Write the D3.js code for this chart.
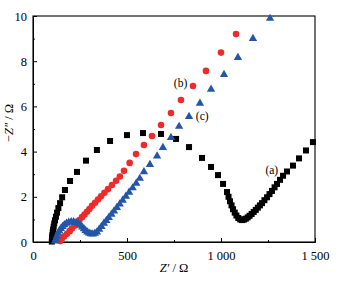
<!DOCTYPE html>
<html>
<head>
<meta charset="utf-8">
<script src="https://cdn.jsdelivr.net/npm/d3@7"></script>
<style>
  body { margin: 0; background: #fff; }
  svg text { font-family: "Liberation Serif", "DejaVu Serif", serif; }
</style>
</head>
<body>
<svg class="eis" width="344" height="281"></svg>
<script>
// Z' (ohm), -Z'' (ohm)
const seriesA = [
  [100,0.02],[101,0.1],[102,0.2],[103,0.3],[105,0.42],[107,0.55],[110,0.68],[113,0.82],
  [117,0.96],[122,1.12],[128,1.3],[135,1.5],[144,1.72],[155,1.98],[170,2.3],[197,2.7],
  [234,3.1],[282,3.6],[340,4.07],[410,4.47],[500,4.73],[585,4.82],[681,4.78],[761,4.56],
  [830,4.2],[899,3.72],[947,3.32],[984,2.96],[1011,2.57],[1032,2.21],[1040,2.0],[1048,1.8],
  [1056,1.62],[1064,1.45],[1073,1.3],[1082,1.17],[1092,1.06],[1102,1.0],[1112,0.97],
  [1122,0.99],[1132,1.03],[1142,1.09],[1152,1.16],[1163,1.24],[1174,1.33],[1185,1.42],
  [1196,1.52],[1207,1.62],[1218,1.72],[1231,1.85],[1245,1.98],[1258,2.12],[1271,2.26],
  [1285,2.42],[1298,2.57],[1314,2.75],[1330,2.93],[1351,3.12],[1383,3.38],[1415,3.7],
  [1452,4.05],[1489,4.42]
];
const seriesB = [
  [145,0.04],[154,0.15],[166,0.25],[181,0.36],[195,0.48],[207,0.6],[220,0.72],[234,0.85],
  [247,0.97],[261,1.1],[274,1.22],[287,1.34],[300,1.46],[314,1.6],[330,1.74],[346,1.88],
  [362,2.02],[380,2.18],[399,2.34],[420,2.52],[442,2.71],[462,2.9],[484,3.15],[514,3.5],
  [548,3.89],[590,4.29],[633,4.69],[681,5.18],[734,5.71],[787,6.28],[851,6.9],[920,7.57],
  [1000,8.38],[1080,9.2]
];
const seriesC = [
  [118,0.02],[122,0.12],[127,0.24],[133,0.36],[140,0.47],[148,0.57],[157,0.66],[167,0.74],
  [178,0.8],[190,0.85],[203,0.87],[216,0.87],[229,0.84],[241,0.79],[252,0.72],[262,0.64],
  [271,0.56],[280,0.48],[289,0.42],[298,0.37],[308,0.34],[318,0.33],[329,0.36],[340,0.42],
  [352,0.54],[364,0.66],[377,0.8],[390,0.93],[403,1.06],[417,1.2],[431,1.35],[446,1.5],
  [461,1.66],[477,1.82],[494,2.0],[511,2.18],[530,2.37],[549,2.57],[568,2.79],[590,3.08],
  [622,3.4],[660,3.78],[691,4.16],[734,4.6],[777,5.09],[830,5.53],[888,6.11],[947,6.73],
  [1016,7.39],[1090,8.14],[1170,8.98],[1261,9.87]
];

const xTicks = [0, 500, 1000, 1500];
const xTickLabels = ['0', '500', '1 000', '1 500'];
const yTicks = [0, 2, 4, 6, 8, 10];

const labels = [
  { text: '(a)', x: 1270, y: 3.0 },
  { text: '(b)', x: 785, y: 6.85 },
  { text: '(c)', x: 900, y: 5.4 }
];

const chart = d3.select('.eis');
const margin = { left: 33, top: 16, right: 29, bottom: 39 };
const chartWidth = +chart.attr('width') - margin.left - margin.right;
const chartHeight = +chart.attr('height') - margin.top - margin.bottom;

const x = d3.scaleLinear().domain([0, 1500]).range([0, chartWidth]);
const y = d3.scaleLinear().domain([0, 10]).range([chartHeight, 0]);

const g = chart.append('g')
  .attr('transform', `translate(${margin.left} ${margin.top})`);

// minor ticks
const xAxisMinor = d3.axisBottom(x).tickValues([250, 750, 1250]).tickSize(-2).tickFormat('');
const yAxisMinor = d3.axisLeft(y).tickValues([1, 3, 5, 7, 9]).tickSize(-2).tickFormat('');

const xAxis = d3.axisBottom(x)
  .tickValues(xTicks)
  .tickSize(-4)
  .tickPadding(9)
  .tickFormat((d, i) => xTickLabels[i]);

const yAxis = d3.axisLeft(y)
  .tickValues(yTicks)
  .tickSize(-4)
  .tickPadding(6);

g.append('g').attr('transform', `translate(0, ${chartHeight})`).call(xAxisMinor);
g.append('g').call(yAxisMinor);

const xAxisG = g.append('g')
  .attr('transform', `translate(0, ${chartHeight})`)
  .call(xAxis);
const yAxisG = g.append('g').call(yAxis);

[xAxisG, yAxisG].forEach(a => {
  a.selectAll('.domain').remove();
  a.selectAll('text').attr('font-size', 12.5).attr('fill', '#000')
    .style('font-family', '"Liberation Serif", serif');
});
g.selectAll('.tick line').attr('stroke', '#000');

// frame
g.append('rect')
  .attr('width', chartWidth)
  .attr('height', chartHeight)
  .attr('fill', 'none')
  .attr('stroke', '#000')
  .attr('stroke-width', 1.1);

// markers
g.append('g').selectAll('rect')
  .data(seriesA)
  .join('rect')
  .attr('x', d => x(d[0]) - 3)
  .attr('y', d => y(d[1]) - 3)
  .attr('width', 6)
  .attr('height', 6)
  .attr('fill', '#000');

g.append('g').selectAll('circle')
  .data(seriesB)
  .join('circle')
  .attr('cx', d => x(d[0]))
  .attr('cy', d => y(d[1]))
  .attr('r', 3.3)
  .attr('fill', '#ee2a2a');

const tri = d3.symbol().type(d3.symbolTriangle).size(30);
g.append('g').selectAll('path')
  .data(seriesC)
  .join('path')
  .attr('transform', d => `translate(${x(d[0])} ${y(d[1]) - 0.5})`)
  .attr('d', tri)
  .attr('fill', '#2356a8');

g.append('g').selectAll('text')
  .data(labels)
  .join('text')
  .attr('x', d => x(d.x))
  .attr('y', d => y(d.y))
  .attr('text-anchor', 'middle')
  .attr('font-size', 11.5)
  .text(d => d.text);

// axis titles
const xt = chart.append('text')
  .attr('x', margin.left + chartWidth / 2)
  .attr('y', 272)
  .attr('text-anchor', 'middle')
  .attr('font-size', 12.5);
xt.append('tspan').attr('font-style', 'italic').text('Z′');
xt.append('tspan').text(' / Ω');

const yt = chart.append('text')
  .attr('transform', `translate(13, ${margin.top + chartHeight / 2 - 6}) rotate(-90)`)
  .attr('text-anchor', 'middle')
  .attr('font-size', 12.5);
yt.append('tspan').text('−');
yt.append('tspan').attr('font-style', 'italic').text('Z″');
yt.append('tspan').text(' / Ω');
</script>
</body>
</html>
